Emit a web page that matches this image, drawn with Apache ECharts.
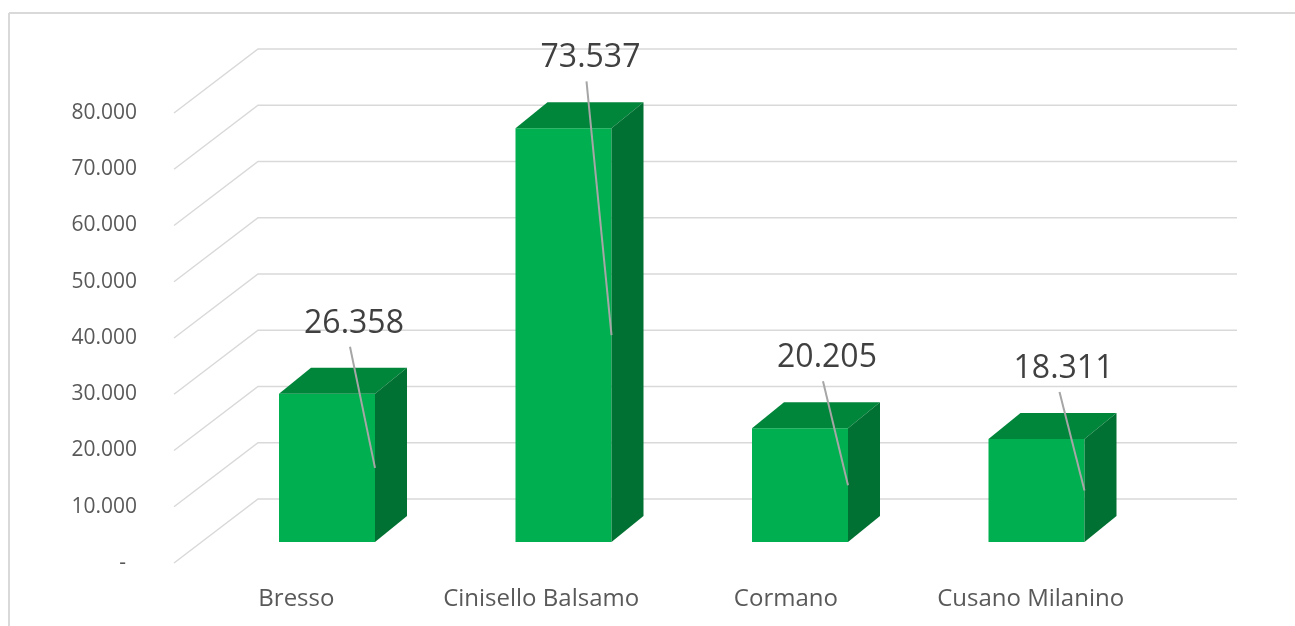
<!DOCTYPE html>
<html>
<head>
<meta charset="utf-8">
<script src="https://cdn.jsdelivr.net/npm/echarts@6/dist/echarts.min.js"></script>
<style>
  html, body { margin: 0; padding: 0; background: #fff; }
  #main { width: 1295px; height: 626px; }
</style>
</head>
<body>
<div id="main"></div>
<script>
// dati
var comuni = ['Bresso', 'Cinisello Balsamo', 'Cormano', 'Cusano Milanino'];
var valori = [26358, 73537, 20205, 18311];
var yTicks = [0, 10000, 20000, 30000, 40000, 50000, 60000, 70000, 80000];

// stile 3D
var FRONT = '#00B050', TOP = '#00863B', SIDE = '#007132';
var DX = 32, DY = -26;        // profondità barra
var WDX = 84, WDY = -64;      // profondità parete
var FONT = 'Open Sans';

function fmt(v) {
  if (v === 0) return '-  ';
  return String(v).replace(/\B(?=(\d{3})+(?!\d))/g, '.');
}

var chart = echarts.init(document.getElementById('main'));

var option = {
  animation: false,
  grid: [
    { left: 174, right: 142, top: 113, bottom: 63 },   // piano frontale (assi)
    { left: 208.75, right: 140.25, top: 92, bottom: 84 } // piano delle barre
  ],
  xAxis: [
    {
      type: 'category', gridIndex: 0, data: comuni,
      axisLine: { show: false }, axisTick: { show: false },
      axisLabel: { color: '#595959', fontSize: 24, fontFamily: FONT, margin: 24, interval: 0 }
    },
    { type: 'category', gridIndex: 1, data: comuni, show: false }
  ],
  yAxis: [
    {
      type: 'value', gridIndex: 0, min: 0, max: 80000, interval: 10000,
      axisLine: { show: false }, axisTick: { show: false }, splitLine: { show: false },
      axisLabel: { color: '#595959', fontSize: 21, fontFamily: FONT, margin: 37, formatter: fmt }
    },
    { type: 'value', gridIndex: 1, min: 0, max: 80000, show: false }
  ],
  graphic: [
    { type: 'line', shape: { x1: 9, y1: 13, x2: 1295, y2: 13 }, style: { stroke: '#D9D9D9', lineWidth: 2 } },
    { type: 'line', shape: { x1: 9, y1: 13, x2: 9, y2: 626 }, style: { stroke: '#D9D9D9', lineWidth: 2 } }
  ],
  series: [
    {
      // linee della parete (diagonale + orizzontale)
      type: 'custom', xAxisIndex: 0, yAxisIndex: 0, z: 1, silent: true,
      data: yTicks.map(function (t) { return [0, t]; }),
      renderItem: function (params, api) {
        var cs = params.coordSys;
        var y = api.coord([0, api.value(1)])[1];
        return {
          type: 'polyline',
          shape: { points: [[cs.x, y], [cs.x + WDX, y + WDY], [cs.x + cs.width + WDX, y + WDY]] },
          style: { stroke: '#D9D9D9', lineWidth: 1.5, fill: null }
        };
      }
    },
    {
      // barre 3D con etichette
      type: 'custom', xAxisIndex: 1, yAxisIndex: 1, z: 2,
      data: valori.map(function (v, i) { return [i, v]; }),
      renderItem: function (params, api) {
        var i = api.value(0), v = api.value(1);
        var p0 = api.coord([i, 0]), p1 = api.coord([i, v]);
        var w = 96, x0 = p0[0] - w / 2, yb = p0[1], yt = p1[1];
        var xr = x0 + w;
        return {
          type: 'group',
          children: [
            { type: 'rect', shape: { x: x0, y: yt, width: w, height: yb - yt }, style: { fill: FRONT } },
            { type: 'polygon', shape: { points: [[x0, yt], [x0 + DX, yt + DY], [xr + DX, yt + DY], [xr, yt]] }, style: { fill: TOP } },
            { type: 'polygon', shape: { points: [[xr, yt], [xr + DX, yt + DY], [xr + DX, yb + DY], [xr, yb]] }, style: { fill: SIDE } },
            { type: 'line', shape: { x1: xr - 25, y1: yt - 47, x2: xr, y2: (yt + yb) / 2 }, style: { stroke: '#A6A6A6', lineWidth: 2 } },
            {
              type: 'text', x: xr - 21, y: yt - 70,
              style: { text: fmt(v), fill: '#404040', fontSize: 32, fontFamily: FONT, align: 'center', verticalAlign: 'middle' }
            }
          ]
        };
      }
    }
  ]
};

chart.setOption(option);
</script>
</body>
</html>
